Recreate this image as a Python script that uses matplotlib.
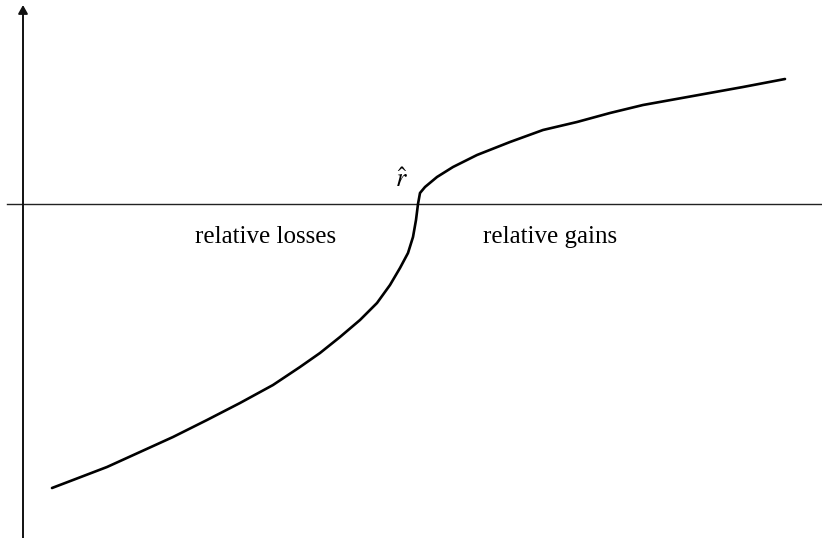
import matplotlib
matplotlib.use("Agg")
import matplotlib.pyplot as plt

# curve, origin at the reference point r-hat
gap = [-366, -345, -311, -278, -245, -211, -178, -145, -118, -98, -78, -58, -41,
       -28, -18, -10, -5, -2, 0, 2, 7, 19, 35, 59, 92, 125, 159, 192, 225, 275,
       325, 367]
value = [-284, -276, -263, -248, -233, -216, -199, -181, -163, -149, -133, -116,
         -99, -81, -64, -49, -33, -16, 0, 11, 17, 27, 37, 49, 62, 74, 82, 91, 99,
         108, 117, 125]

left_label = "relative losses"
right_label = "relative gains"
ref_label = r"$\hat{r}$"

plt.rcParams["mathtext.fontset"] = "stix"

fig = plt.figure(figsize=(8.22, 5.38), dpi=100)
ax = fig.add_axes([0, 0, 1, 1])
ax.set_xlim(-418, 404)
ax.set_ylim(-334, 204)
ax.axis("off")

# axes
ax.plot([-411, 404], [0, 0], color="#222222", linewidth=1.0)
ax.annotate("", xy=(-395, 199), xytext=(-395, -334),
            arrowprops=dict(arrowstyle="-|>,head_length=0.5,head_width=0.28",
                            color="#111111", lw=1.4, shrinkA=0, shrinkB=0))

# the curve
ax.plot(gap, value, color="black", linewidth=1.9,
        solid_capstyle="round", solid_joinstyle="round")

ax.text(-152, -39, left_label, ha="center", va="baseline",
        family="Liberation Serif", fontsize=18)
ax.text(132, -39, right_label, ha="center", va="baseline",
        family="Liberation Serif", fontsize=18)
ax.text(-17, 24, ref_label, ha="center", va="center", fontsize=19)

fig.savefig("out.png", dpi=100)
